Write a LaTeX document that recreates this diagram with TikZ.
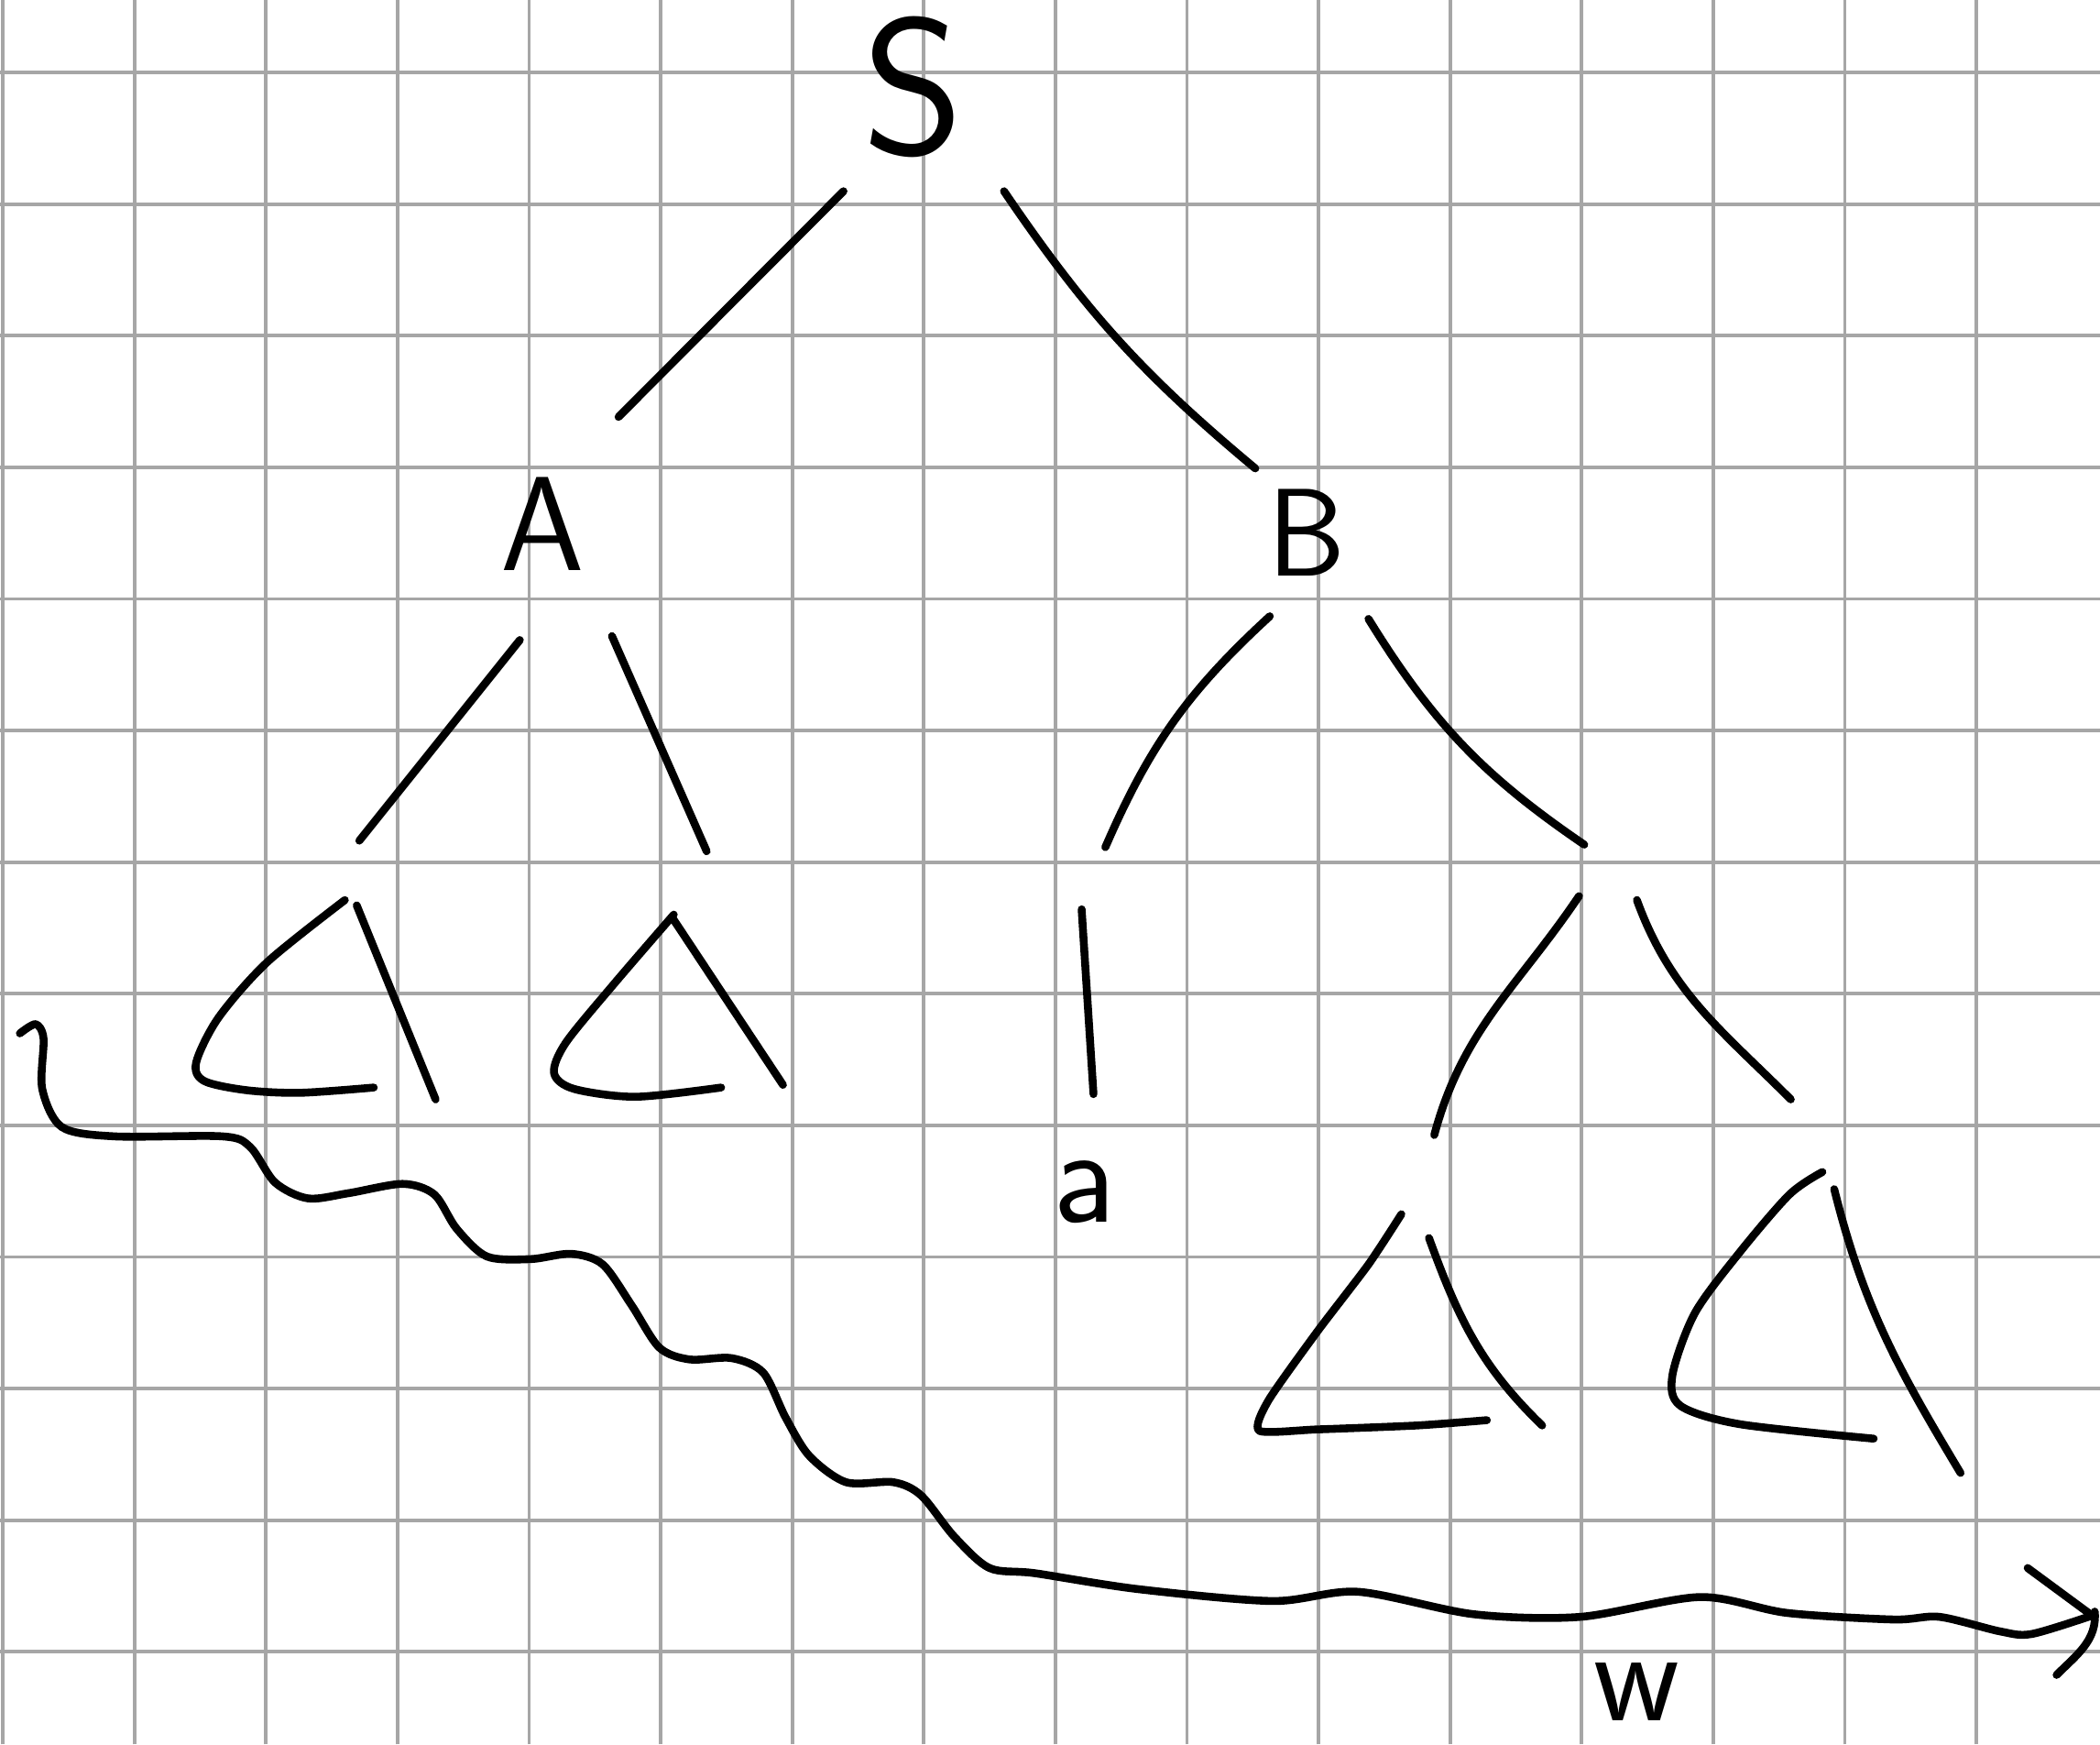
\documentclass[tikz,border=0pt]{standalone}
\usepackage{fontspec}
\definecolor{gridgray}{RGB}{166,166,166}
\begin{document}
\begin{tikzpicture}[x=1cm, y=1.003cm,
    pen/.style={line width=1.7pt, line cap=round, line join=round},
    gridline/.style={draw=gridgray, line width=0.75pt},
    sym/.style={font=\sffamily\fontsize{#1}{#1}\selectfont, inner sep=0pt}]
    \useasboundingbox (-0.021,-12.667) rectangle (15.940,0.5486);
    \draw[gridline] (-0.021,-12.667) grid (15.940,0.5486);

    \node[sym=42] (S) at (6.92,-0.11) {S};
    \node[sym=29] (A) at (4.10,-3.42) {A};
    \node[sym=27] (B) at (9.91,-3.49) {B};
    \node[sym=30] (a) at (8.22,-8.48) {a};
    \node[sym=29] (w) at (12.42,-12.27) {w};

    \coordinate (S-l) at (6.39,-0.90);
    \coordinate (S-r) at (7.61,-0.90);
    \coordinate (A-t) at (4.68,-2.61);
    \coordinate (B-t) at (9.52,-3.00);
    \coordinate (A-l) at (3.93,-4.30);
    \coordinate (A-r) at (4.63,-4.27);
    \coordinate (B-l) at (9.63,-4.12);
    \coordinate (B-r) at (10.38,-4.14);
    \coordinate (a-t) at (8.20,-6.34);
    \coordinate (a-b) at (8.29,-7.74);
    \coordinate (wend) at (15.88,-11.69);

    \draw[pen] (S-l) -- (A-t);
    \draw[pen] (S-r) to[bend right=8] (B-t);
    \draw[pen] (A-l) -- (2.71,-5.82);
    \draw[pen] (A-r) -- (5.35,-5.90);
    \draw[pen] (B-l) to[bend right=12] (8.38,-5.87);
    \draw[pen] (B-r) to[bend right=12] (12.02,-5.85);
    \draw[pen] (a-t) -- (a-b);

    \draw[pen] (11.98,-6.24) to[out=-124,in=75] (10.88,-8.05);
    \draw[pen] (12.42,-6.27) to[out=-70,in=135] (13.59,-7.78);

    \draw[pen] plot[smooth, tension=0.5] coordinates {(2.60,-6.27) (2.01,-6.74) (1.64,-7.16) (1.47,-7.50) (1.53,-7.64) (1.85,-7.71) (2.26,-7.73) (2.82,-7.69)};
    \draw[pen] (2.69,-6.31) -- (3.29,-7.78);
    \draw[pen] plot[smooth, tension=0.5] coordinates {(5.10,-6.38) (4.65,-6.90) (4.28,-7.35) (4.19,-7.58) (4.34,-7.70) (4.81,-7.76) (5.46,-7.69)};
    \draw[pen] (5.10,-6.42) -- (5.93,-7.67);
    \draw[pen] plot[smooth, tension=0.4] coordinates {(10.63,-8.65) (10.38,-9.03) (9.99,-9.54) (9.62,-10.06) (9.55,-10.29) (9.99,-10.28) (10.75,-10.25) (11.28,-10.21)};
    \draw[pen] (10.84,-8.83) to[out=-70,in=136] (11.70,-10.25);
    \draw[pen] plot[smooth, tension=0.5] coordinates {(13.83,-8.33) (13.58,-8.50) (13.20,-8.94) (12.86,-9.40) (12.69,-9.87) (12.75,-10.10) (13.20,-10.24) (14.22,-10.35)};
    \draw[pen] (13.92,-8.46) to[out=-76,in=121] (14.88,-10.61);

    \draw[pen] plot[smooth] coordinates {(0.13,-7.28) (0.25,-7.21) (0.31,-7.32) (0.30,-7.70) (0.45,-7.99) (0.85,-8.06) (1.67,-8.06) (1.88,-8.14) (2.07,-8.41) (2.32,-8.53) (2.63,-8.49) (3.04,-8.42) (3.28,-8.50) (3.45,-8.76) (3.68,-8.97) (4.01,-8.99) (4.32,-8.95) (4.56,-9.03) (4.78,-9.34) (4.99,-9.66) (5.22,-9.75) (5.54,-9.74) (5.78,-9.85) (5.95,-10.19) (6.13,-10.48) (6.41,-10.68) (6.77,-10.68) (6.98,-10.78) (7.23,-11.09) (7.50,-11.33) (7.85,-11.37) (8.63,-11.49) (9.65,-11.58) (10.30,-11.51) (11.18,-11.68) (11.99,-11.70) (12.90,-11.55) (13.56,-11.67) (14.37,-11.72) (14.72,-11.70) (15.18,-11.81) (15.42,-11.83) (wend)};
    \draw[pen] (wend) -- (15.39,-11.33);
    \draw[pen] (15.90,-11.66) to[out=-85,in=45] (15.61,-12.14);
\end{tikzpicture}
\end{document}
